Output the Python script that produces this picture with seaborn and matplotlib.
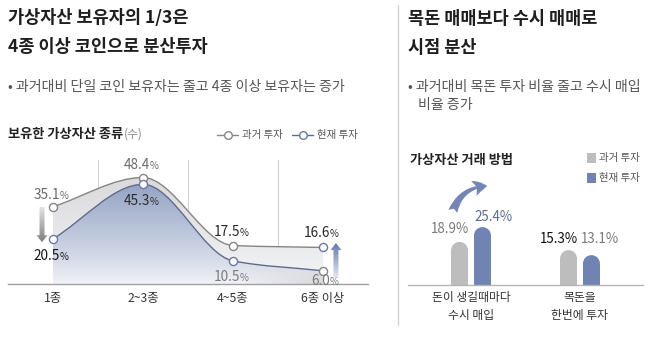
import numpy as np
import pandas as pd
import matplotlib
matplotlib.use("Agg")
import matplotlib.pyplot as plt
from matplotlib.path import Path
from matplotlib.patches import PathPatch, FancyArrow, Ellipse, Rectangle, FancyArrowPatch
from matplotlib.lines import Line2D
import seaborn as sns

# --- holdings: number of coin kinds held ---
kinds = ["1종", "2~3종", "4~5종", "6종 이상"]
past_share = [35.1, 48.4, 17.5, 6.0]
now_share = [20.5, 45.3, 10.5, 16.6]
series_names = ["과거 투자", "현재 투자"]

# --- trading method ---
methods = ["돈이 생길때마다\n수시 매입", "목돈을\n한번에 투자"]
past_method = [18.9, 15.3]
now_method = [25.4, 13.1]

# colours
PAST_LINE = "#858585"
NOW_LINE = "#5f6b8c"
NOW_EDGE = "#6c7aa3"
BAR_GRAY = "#bdbdbd"
BAR_BLUE = "#7183b3"
past_label_colors = ["#6a6a6a", "#6a6a6a", "#262626", "#7a7a7a"]
now_label_colors = ["#161616", "#2a2a2a", "#7a7a7a", "#262626"]

sns.set_theme(style="white")
plt.rcParams["font.family"] = ["Noto Sans CJK KR", "DejaVu Sans"]

W, H = 658, 341
fig = plt.figure(figsize=(W / 100, H / 100), dpi=100)
fig.patch.set_facecolor("white")


def fx(x):
    return x / W


def fy(y):
    return 1 - y / H


# ================= left panel =================
PX_PER_PCT = 2.2
axl = fig.add_axes([fx(8), fy(284), 360 / W, 124 / H])
axl.set_facecolor("none")
YMAX_L = 124 / PX_PER_PCT

xs = np.arange(len(kinds), dtype=float)
upper = np.maximum(past_share, now_share)
lower = np.minimum(past_share, now_share)


def tangents(y):
    d = np.diff(y)
    m = np.empty(len(y))
    m[0], m[-1] = d[0], d[-1]
    for i in range(1, len(y) - 1):
        if d[i - 1] * d[i] <= 0:
            m[i] = 0.0
        else:
            m[i] = 2.0 / (1.0 / d[i - 1] + 1.0 / d[i])
    return m


def smooth_vertices(x, y):
    m = tangents(np.asarray(y, dtype=float))
    verts = [(x[0], y[0])]
    codes = [Path.MOVETO]
    for i in range(len(x) - 1):
        h = (x[i + 1] - x[i]) / 3.0
        verts += [(x[i] + h, y[i] + m[i] * h),
                  (x[i + 1] - h, y[i + 1] - m[i + 1] * h),
                  (x[i + 1], y[i + 1])]
        codes += [Path.CURVE4] * 3
    return verts, codes


up_v, up_c = smooth_vertices(xs, upper)
lo_v, lo_c = smooth_vertices(xs, lower)

# band between the two curves
band_v = up_v + lo_v[::-1] + [up_v[0]]
band_c = up_c + [Path.LINETO] + [Path.CURVE4] * (len(lo_v) - 1) + [Path.CLOSEPOLY]
band_patch = PathPatch(Path(band_v, band_c), facecolor="none", edgecolor="none")
axl.add_patch(band_patch)

# area under the lower curve
area_v = lo_v + [(xs[-1], 0), (xs[0], 0), lo_v[0]]
area_c = lo_c + [Path.LINETO, Path.LINETO, Path.CLOSEPOLY]
area_patch = PathPatch(Path(area_v, area_c), facecolor="none", edgecolor="none")
axl.add_patch(area_patch)

ny, nx = 240, 160
yy = np.linspace(0, YMAX_L, ny)[:, None, None]
xg = np.linspace(xs[0], xs[-1], nx)[None, :, None]


def lerp(a, b, t):
    return np.asarray(a) * (1 - t) + np.asarray(b) * t


t_band = np.clip(yy / 48.0, 0, 1)
band_rgb = lerp((0.955, 0.958, 0.968), (0.855, 0.855, 0.86), t_band)
band_rgb = np.broadcast_to(band_rgb, (ny, nx, 3))
im1 = axl.imshow(band_rgb, extent=(xs[0], xs[-1], 0, YMAX_L), origin="lower",
                 aspect="auto", zorder=1, interpolation="bilinear")
im1.set_clip_path(band_patch)

t_area = np.clip(yy / 46.0, 0, 1) ** 0.85
area_rgb = lerp((0.95, 0.955, 0.97), (0.58, 0.64, 0.77), t_area)
g = np.clip((xg - 2.0) / 1.0, 0, 1) * np.clip(1 - yy / 13.0, 0, 1) * 0.9
area_rgb = lerp(np.broadcast_to(area_rgb, (ny, nx, 3)), (0.84, 0.84, 0.845), g)
im2 = axl.imshow(area_rgb, extent=(xs[0], xs[-1], 0, YMAX_L), origin="lower",
                 aspect="auto", zorder=1, interpolation="bilinear")
im2.set_clip_path(area_patch)

# curve outlines
axl.add_patch(PathPatch(Path(up_v, up_c), facecolor="none", edgecolor=PAST_LINE, lw=1.0, zorder=3))
axl.add_patch(PathPatch(Path(lo_v, lo_c), facecolor="none", edgecolor=NOW_LINE, lw=1.0, zorder=3))

# point markers
sns.scatterplot(x=xs, y=past_share, color="white", edgecolor=PAST_LINE, s=34,
                linewidth=1.0, zorder=5, ax=axl)
sns.scatterplot(x=xs, y=now_share, color="white", edgecolor=NOW_EDGE, s=34,
                linewidth=1.0, zorder=5, ax=axl)

# gridlines between categories
for gx in xs[:-1] + 0.5:
    axl.axvline(gx, color="#d2d2d2", lw=0.8, zorder=0)


def pct_label(ax, x, y, v, dy, color):
    ax.annotate(f"{v:.1f}", (x, y), xytext=(7, dy - 5), textcoords="offset pixels",
                ha="right", va="baseline", fontsize=9.8, color=color, zorder=6)
    ax.annotate("%", (x, y), xytext=(7, dy - 5), textcoords="offset pixels",
                ha="left", va="baseline", fontsize=7, color=color, zorder=6)


label_offsets = {True: [13, 14, 15, 15], False: [-16, -16, -15, -9]}
for i, x in enumerate(xs):
    for vals, cols in ((past_share, past_label_colors), (now_share, now_label_colors)):
        v = vals[i]
        is_top = v == max(past_share[i], now_share[i])
        pct_label(axl, x, v, v, label_offsets[is_top][i], cols[i])


def gradient_arrow(ax, x, y0, y1, w, hw, hl, c_min, c_max):
    arr = FancyArrow(x, y0, 0, y1 - y0, width=w, head_width=hw, head_length=hl,
                     length_includes_head=True, facecolor="none", edgecolor="none")
    ax.add_patch(arr)
    lo, hi = min(y0, y1), max(y0, y1)
    t = np.linspace(0, 1, 100)[:, None, None]
    img = np.broadcast_to(lerp(c_min, c_max, t), (100, 4, 3))
    im = ax.imshow(img, extent=(x - hw, x + hw, lo, hi), origin="lower",
                   aspect="auto", zorder=4, interpolation="bilinear")
    im.set_clip_path(arr)


# change arrows: 1종 went down, 6종 이상 went up
gradient_arrow(axl, -0.122, 35.0, 19.0, 5 / 90, 11 / 90, 7 / PX_PER_PCT,
               (0.50, 0.50, 0.50), (0.90, 0.90, 0.90))
gradient_arrow(axl, 3.144, 2.7, 18.6, 5 / 90, 11 / 90, 7 / PX_PER_PCT,
               (0.90, 0.91, 0.95), (0.40, 0.47, 0.68))

axl.set_xlim(-0.5, 3.5)
axl.set_ylim(0, YMAX_L)
axl.set_xticks(xs, kinds)
axl.set_yticks([])
axl.tick_params(axis="x", length=0, pad=6, labelsize=8.8, labelcolor="#333333")
for s in ("left", "top", "right"):
    axl.spines[s].set_visible(False)
axl.spines["bottom"].set_color("#a0a0a0")
axl.spines["bottom"].set_linewidth(1.0)
axl.grid(False)

# ================= right panel =================
PX_PER_PCT_R = 2.28
axr = fig.add_axes([fx(408), fy(285), 235 / W, 135 / H])
axr.set_facecolor("none")
dfb = pd.DataFrame({
    "방법": methods * 2,
    "구분": [series_names[0]] * len(methods) + [series_names[1]] * len(methods),
    "비율": past_method + now_method,
})
sns.barplot(data=dfb, x="방법", y="비율", hue="구분", palette=[BAR_GRAY, BAR_BLUE],
            width=0.42, gap=0.26, errorbar=None, legend=False, saturation=1,
            ax=axr, zorder=2)
XL = (-0.578, 1.578)
YMAX_R = 135 / PX_PER_PCT_R
axr.set_xlim(*XL)
axr.set_ylim(0, YMAX_R)

px_per_x = 235 / (XL[1] - XL[0])
px_per_y = 135 / YMAX_R
for bar in axr.patches[:]:
    w = bar.get_width()
    h = bar.get_height()
    r_y = (w * px_per_x / 2) / px_per_y
    bar.set_height(h - r_y)
    bar.set_linewidth(0)
    axr.add_patch(Ellipse((bar.get_x() + w / 2, h - r_y), w, 2 * r_y,
                          facecolor=bar.get_facecolor(), edgecolor="none", zorder=2))

bar_label_style = [
    [("#7a7a7a", -10, 13), ("#121212", -10, 11)],
    [("#5d6b93", 11, 10), ("#7a7a7a", 8, 16)],
]
for k, (cont, vals) in enumerate(zip(axr.containers, (past_method, now_method))):
    for i, (bar, v) in enumerate(zip(cont, vals)):
        col, dx, dy = bar_label_style[k][i]
        cx = bar.get_x() + bar.get_width() / 2
        axr.annotate(f"{v:.1f}%", (cx, v), xytext=(dx, dy), textcoords="offset pixels",
                     ha="center", va="center", fontsize=9.6, color=col, zorder=5)

# curved arrow over the first group
fig.add_artist(FancyArrowPatch(
    (fx(452), fy(214)), (fx(490), fy(186)), transform=fig.transFigure,
    arrowstyle="fancy,head_length=0.65,head_width=0.75,tail_width=0.45",
    connectionstyle="arc3,rad=-0.38", mutation_scale=15,
    facecolor="#7386b6", edgecolor="none"))

axr.set_xlabel("")
axr.set_ylabel("")
axr.set_yticks([])
axr.tick_params(axis="x", length=0, pad=4.5, labelsize=8.5, labelcolor="#333333")
for t in axr.get_xticklabels():
    t.set_linespacing(1.5)
for s in ("left", "top", "right"):
    axr.spines[s].set_visible(False)
axr.spines["bottom"].set_color("#b4b4b4")
axr.spines["bottom"].set_linewidth(1.0)
axr.grid(False)

# ================= text and decorations =================
TITLE = dict(fontsize=12.6, fontweight="bold", color="#1e1e1e", va="center", ha="left")
BODY = dict(fontsize=10.1, color="#555555", va="center", ha="left")
SUB = dict(fontsize=9.5, fontweight="bold", color="#222222", va="center", ha="left")

fig.text(fx(8), fy(18), "가상자산 보유자의 1/3은", **TITLE)
fig.text(fx(8), fy(47), "4종 이상 코인으로 분산투자", **TITLE)
fig.text(fx(8), fy(87), "• 과거대비 단일 코인 보유자는 줄고 4종 이상 보유자는 증가", **BODY)

fig.text(fx(408), fy(19), "목돈 매매보다 수시 매매로", **TITLE)
fig.text(fx(408), fy(48), "시점 분산", **TITLE)
fig.text(fx(408), fy(87), "• 과거대비 목돈 투자 비율 줄고 수시 매입", **BODY)
fig.text(fx(418), fy(105), "비율 증가", **BODY)

sub_l = fig.text(fx(8), fy(134), "보유한 가상자산 종류", **SUB)
renderer = fig.canvas.get_renderer()
bb = sub_l.get_window_extent(renderer)
fig.text(bb.x1 / W + 1 / W, fy(134), "(수)", fontsize=8.5, color="#888888", va="center", ha="left")

fig.text(fx(410), fy(160), "가상자산 거래 방법", **SUB)

# left legend
for x0, x1, col, mec, label in ((217, 238, PAST_LINE, PAST_LINE, series_names[0]),
                                (292, 313, NOW_LINE, NOW_EDGE, series_names[1])):
    fig.add_artist(Line2D([fx(x0), fx(x1)], [fy(135), fy(135)], transform=fig.transFigure,
                          color=col, lw=1.0))
    fig.add_artist(Line2D([fx((x0 + x1) / 2)], [fy(135)], transform=fig.transFigure,
                          marker="o", markersize=5.5, mfc="white", mec=mec, mew=1.0, ls="none"))
    fig.text(fx(x1 + 4), fy(135), label, fontsize=7.5, color="#555555", va="center", ha="left")

# right legend
for yc, col, label in ((158, BAR_GRAY, series_names[0]), (178, BAR_BLUE, series_names[1])):
    fig.add_artist(Rectangle((fx(587), fy(yc + 5)), 9 / W, 10 / H, transform=fig.transFigure,
                             facecolor=col, edgecolor="none"))
    fig.text(fx(599), fy(yc), label, fontsize=7.5, color="#555555", va="center", ha="left")

# panel divider
fig.add_artist(Line2D([fx(397.5), fx(397.5)], [fy(5), fy(325)], transform=fig.transFigure,
                      color="#d4d4d4", lw=1.0))

fig.savefig("out.png", dpi=100, facecolor="white")
